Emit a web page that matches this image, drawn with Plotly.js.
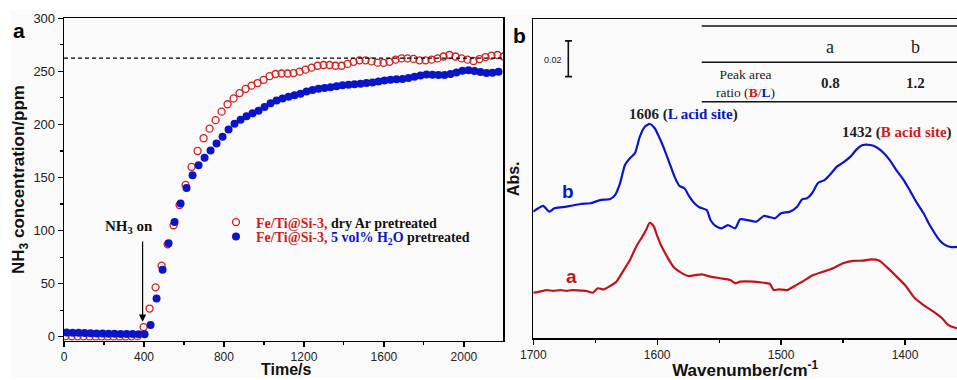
<!DOCTYPE html>
<html><head><meta charset="utf-8">
<script src="https://cdn.plot.ly/plotly-3.0.1.min.js"></script>
<style>html,body{margin:0;padding:0;background:#fff}#chart{width:957px;height:380px}</style>
</head><body><div id="chart"></div>
<script>
// ---------- Panel a : NH3 breakthrough ----------
const timeDry = [8,38,68,98,128,158,188,218,248,278,308,338,368,398,428,458,488,518,548,578,608,638,668,698,728,758,788,818,848,878,908,938,968,998,1028,1058,1088,1118,1148,1178,1208,1238,1268,1298,1328,1358,1388,1418,1448,1478,1508,1538,1568,1598,1628,1658,1688,1718,1748,1778,1808,1838,1868,1898,1928,1958,1988,2018,2048,2078,2108,2138,2168,2198];
const nh3Dry = [0.5,0.4,0.3,0.3,0.2,0.2,0.2,0.2,0.2,0.2,0.2,0.3,0.5,9,26.5,46.5,67,87,105,124,143,160,175,187,196,204,212,219,224.5,229.5,233.5,236.5,239,242,245.5,247.5,248,248,248.4,249.7,251.6,253.5,255.3,256,256,255.3,255.3,257,259,260.4,260.4,259.4,258.2,258,259,261,262.2,262.2,261.7,260.4,260.4,261,262.2,264,265.4,264,262.2,261,259.8,261.6,263.5,264.8,265.4,264];
const timeWet = [13,43,73,103,133,163,193,223,253,283,313,343,373,403,433,463,493,523,553,583,613,643,673,703,733,763,793,823,853,883,913,943,973,1003,1033,1063,1093,1123,1153,1183,1213,1243,1273,1303,1333,1363,1393,1423,1453,1483,1513,1543,1573,1603,1633,1663,1693,1723,1753,1783,1813,1843,1873,1903,1933,1963,1993,2023,2053,2083,2113,2143,2173];
const nh3Wet = [4,3.8,3.6,3.4,3.2,3.0,2.9,2.8,2.7,2.6,2.5,2.4,2.3,2.2,11,36,63,88,108,125.5,140,152,161.5,168.7,175.5,182,188.4,195.3,200.7,204.5,207.6,210.5,213,216.5,220,222.5,224.5,226,227.5,229,231,232.5,233.6,234.3,235,236,236.8,237.3,237.8,238.3,239,239.5,240.5,241.3,242,242.5,242.8,243.8,245,246,247,246.8,246.5,246.5,247.5,249,250.5,251,250.3,249.5,248.5,248.8,249.7];
const feedLevel = 262.5;
const nh3OnTime = 393;
const timeTicks = [0,400,800,1200,1600,2000];
const concTicks = [0,50,100,150,200,250,300];

// ---------- Panel b : IR spectra ----------
const wnB = [1700,1696,1692,1687,1683,1676,1670,1662,1654,1646,1638,1634,1630,1626,1622,1618,1614,1610,1606,1602,1598,1594,1590,1586,1582,1578,1574,1570,1566,1560,1557,1553,1548,1543,1537,1533,1527,1520,1514,1509,1505,1500,1493,1487,1483,1479,1475,1470,1465,1460,1455,1450,1444,1439,1434,1428,1423,1417,1412,1407,1401,1396,1391,1385,1380,1374,1370,1366,1362,1357];
const absB = [0.0709,0.0728,0.0741,0.0709,0.0728,0.0734,0.0741,0.0752,0.0756,0.0774,0.0780,0.0802,0.0868,0.0970,0.1008,0.1036,0.1129,0.1185,0.1200,0.1176,0.1120,0.1054,0.0980,0.0905,0.0853,0.0840,0.0793,0.0756,0.0734,0.0718,0.0662,0.0629,0.0616,0.0634,0.0616,0.0666,0.0662,0.0653,0.0685,0.0678,0.0672,0.0700,0.0709,0.0737,0.0778,0.0784,0.0812,0.0871,0.0886,0.0920,0.0961,0.0983,0.1017,0.1058,0.1082,0.1082,0.1070,0.1036,0.0995,0.0942,0.0886,0.0827,0.0765,0.0700,0.0634,0.0567,0.0534,0.0517,0.0511,0.0513];
const wnA = [1700,1695,1689,1684,1678,1673,1669,1662,1657,1652,1648,1643,1638,1633,1627,1622,1617,1612,1609,1606,1603,1600,1597,1592,1587,1582,1575,1569,1564,1557,1549,1541,1537,1533,1522,1514,1509,1506,1502,1495,1490,1483,1474,1466,1458,1450,1442,1434,1427,1421,1415,1408,1400,1392,1385,1377,1370,1365,1358];
const absA = [0.0255,0.0261,0.0270,0.0265,0.0270,0.0265,0.0270,0.0267,0.0265,0.0255,0.0280,0.0274,0.0293,0.0317,0.0382,0.0438,0.0513,0.0569,0.0606,0.0647,0.0629,0.0573,0.0522,0.0457,0.0401,0.0373,0.0349,0.0354,0.0358,0.0345,0.0336,0.0326,0.0308,0.0317,0.0317,0.0311,0.0304,0.0270,0.0274,0.0270,0.0289,0.0317,0.0354,0.0373,0.0392,0.0420,0.0433,0.0435,0.0442,0.0435,0.0401,0.0354,0.0298,0.0224,0.0186,0.0149,0.0112,0.0074,0.0056];
const wnTicks = [1700,1600,1500,1400];
const scaleBarAbs = 0.02;
const scaleBarBase = 0.1465;
const tableCols = ['a','b'];
const ratioBL = ['0.8','1.2'];

// ---------- helpers / styles ----------
const W = 957, H = 380;
const px = x => x / W, py = y => 1 - y / H;
const SERIF = '"Times New Roman", "Liberation Serif", serif';
const SANS = 'Arial, "Liberation Sans", sans-serif';
const RED = '#d01c1c', BLUE = '#0a14c8', SRED = '#c4121c', SBLUE = '#0b16c9';

const traces = [
  {x: timeDry, y: nh3Dry, type: 'scatter', mode: 'markers', xaxis: 'x', yaxis: 'y', legend: 'legend',
   name: '<b><span style="color:' + RED + '">Fe/Ti@Si-3,</span> dry Ar pretreated</b>',
   marker: {symbol: 'circle-open', size: 7, color: RED, line: {width: 1.3, color: RED}}},
  {x: timeWet, y: nh3Wet, type: 'scatter', mode: 'markers', xaxis: 'x', yaxis: 'y', legend: 'legend2',
   name: '<b><span style="color:' + RED + '">Fe/Ti@Si-3,</span> <span style="color:' + BLUE + '">5 vol% H<sub>2</sub>O</span> pretreated</b>',
   marker: {symbol: 'circle', size: 8, color: BLUE, line: {width: 0}}},
  {x: wnB, y: absB, type: 'scatter', mode: 'lines', xaxis: 'x2', yaxis: 'y2', showlegend: false,
   line: {color: SBLUE, width: 2.2, shape: 'spline', smoothing: 0.6}},
  {x: wnA, y: absA, type: 'scatter', mode: 'lines', xaxis: 'x2', yaxis: 'y2', showlegend: false,
   line: {color: SRED, width: 2.2, shape: 'spline', smoothing: 0.6}}
];

const axisBase = {
  showline: true, linecolor: '#000', linewidth: 1.3, showgrid: false, zeroline: false,
  ticks: 'outside', ticklen: 5, tickwidth: 1.2, tickcolor: '#000',
  automargin: false
};

const annos = [];
function txt(text, x, y, size, family, color, extra) {
  annos.push(Object.assign({text: text, x: px(x), y: py(y), xref: 'paper', yref: 'paper',
    showarrow: false, xanchor: 'center', yanchor: 'middle',
    font: {size: size, family: family, color: color}}, extra || {}));
}
txt('<b>a</b>', 19, 30, 21, SANS, '#000');
txt('<b>b</b>', 519, 36, 21, SANS, '#000');
txt('<b>Time/s</b>', 286, 380, 16, SANS, '#111', {yanchor: 'bottom'});
txt('<b>NH<sub>3</sub> on</b>', 129, 227, 15, SERIF, '#111');
annos.push({x: nh3OnTime, y: 14, ax: nh3OnTime, ay: 92, xref: 'x', yref: 'y', axref: 'x', ayref: 'y',
  text: ' ', showarrow: true, arrowhead: 2, arrowsize: 1.2, arrowwidth: 1.2, arrowcolor: '#000',
  font: {size: 2}});
txt('<b>1606 (<span style="color:' + BLUE + '">L acid site</span>)</b>', 683, 114, 15, SERIF, '#222');
txt('<b>1432 (<span style="color:' + RED + '">B acid site</span>)</b>', 897, 132, 15, SERIF, '#222');
txt('<b>b</b>', 568, 191.5, 19, SANS, SBLUE);
txt('<b>a</b>', 571, 276.5, 19, SANS, SRED);
const colX = [830, 915];
tableCols.forEach((c, i) => txt(c, colX[i], 46.7, 18, SERIF, '#222'));
ratioBL.forEach((v, i) => txt('<b>' + v + '</b>', colX[i], 83, 15, SERIF, '#222'));
txt('Peak area<br>ratio (<span style="color:#e01010"><b>B</b></span>/<span style="color:' + BLUE + '"><b>L</b></span>)', 745, 83.5, 13.5, SERIF, '#222');
txt('0.02', 552.5, 60, 9, SANS, '#222');

const shapes = [
  {type: 'rect', xref: 'paper', yref: 'paper', x0: px(11), x1: 1, y0: py(378), y1: py(10),
   fillcolor: '#fafafa', line: {width: 0}, layer: 'below'},
  {type: 'line', xref: 'x domain', yref: 'y', x0: 0, x1: 1, y0: feedLevel, y1: feedLevel,
   line: {color: '#000', width: 1.3, dash: '4px,3px'}},
  {type: 'line', xref: 'paper', yref: 'y2', x0: px(568.3), x1: px(568.3), y0: scaleBarBase, y1: scaleBarBase + scaleBarAbs,
   line: {color: '#111', width: 1.6}},
  {type: 'line', xref: 'paper', yref: 'y2', x0: px(565), x1: px(572), y0: scaleBarBase, y1: scaleBarBase,
   line: {color: '#111', width: 1.6}},
  {type: 'line', xref: 'paper', yref: 'y2', x0: px(565), x1: px(572), y0: scaleBarBase + scaleBarAbs, y1: scaleBarBase + scaleBarAbs,
   line: {color: '#111', width: 1.6}}
];
[26, 62.3, 101.7].forEach(yy => shapes.push({type: 'line', xref: 'paper', yref: 'paper',
  x0: px(701.7), x1: 1, y0: py(yy), y1: py(yy), line: {color: '#111', width: 1.6}}));

const legendStyle = {xanchor: 'left', yanchor: 'top', bgcolor: 'rgba(0,0,0,0)',
  font: {family: SERIF, size: 14, color: '#111'}, itemclick: false, borderwidth: 0};

const layout = {
  width: W, height: H,
  margin: {l: 0, r: 0, t: 0, b: 0},
  paper_bgcolor: '#ffffff', plot_bgcolor: '#fafafa',
  font: {family: SANS, color: '#222'},
  showlegend: true,
  legend: Object.assign({x: px(216), y: py(206.5)}, legendStyle),
  legend2: Object.assign({x: px(216), y: py(221)}, legendStyle),
  xaxis: Object.assign({}, axisBase, {
    domain: [px(64), px(503.3)], range: [0, 2197], anchor: 'y', mirror: true,
    tickmode: 'array', tickvals: timeTicks, ticktext: timeTicks.map(String),
    minor: {tick0: 0, dtick: 200, ticks: 'outside', ticklen: 3, tickwidth: 1.1, tickcolor: '#000'},
    tickfont: {family: SANS, size: 12, color: '#222'}
  }),
  yaxis: Object.assign({}, axisBase, {
    domain: [py(340.7), py(18.3)], range: [-3.8, 300], anchor: 'x', mirror: true,
    tickmode: 'array', tickvals: concTicks, ticktext: concTicks.map(String),
    minor: {tick0: 0, dtick: 25, ticks: 'outside', ticklen: 3, tickwidth: 1.1, tickcolor: '#000'},
    tickfont: {family: SANS, size: 13, color: '#222'},
    title: {text: '<b>NH<sub>3</sub> concentration/ppm</b>', font: {family: SANS, size: 17, color: '#111'}, standoff: 4}
  }),
  xaxis2: Object.assign({}, axisBase, {
    domain: [px(533.3), 1], range: [1700, 1358], anchor: 'y2', mirror: true,
    tickmode: 'array', tickvals: wnTicks, ticktext: wnTicks.map(String),
    minor: {tick0: 1700, dtick: 50, ticks: 'outside', ticklen: 3, tickwidth: 1.1, tickcolor: '#000'},
    tickfont: {family: SANS, size: 12, color: '#222'},
    title: {text: '<b>Wavenumber/cm<sup>-1</sup></b>', font: {family: SANS, size: 17, color: '#111'}, standoff: 10}
  }),
  yaxis2: Object.assign({}, axisBase, {
    domain: [py(338.3), py(19.3)], range: [0, 0.1786], anchor: 'x2', mirror: false,
    ticks: '', showticklabels: false,
    title: {text: '<b>Abs.</b>', font: {family: SANS, size: 16, color: '#111'}, standoff: 8}
  }),
  annotations: annos,
  shapes: shapes
};

Plotly.newPlot('chart', traces, layout, {staticPlot: true, displayModeBar: false});
</script>
</body></html>
